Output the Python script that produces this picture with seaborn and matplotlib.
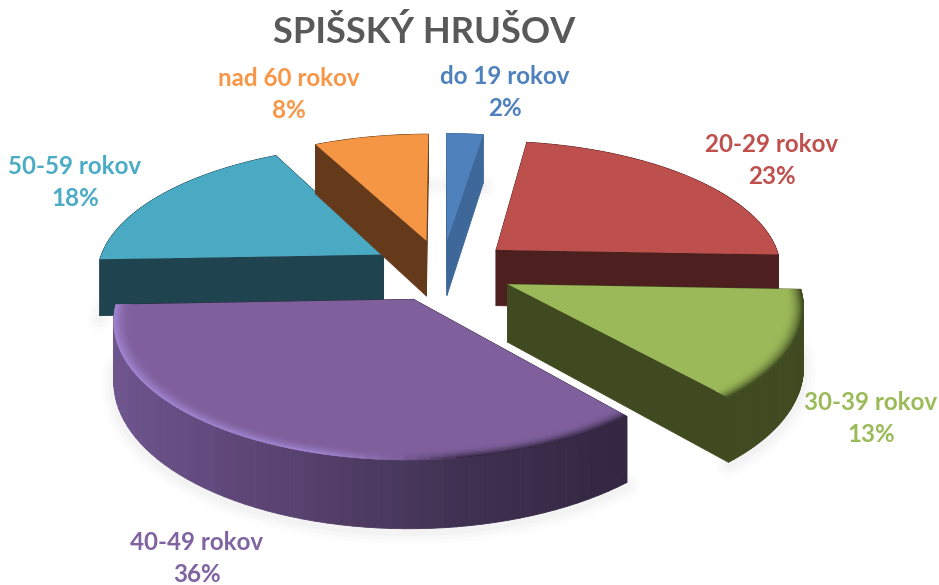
import numpy as np
import matplotlib
matplotlib.use("Agg")
from matplotlib import pyplot as plt
from matplotlib.collections import PolyCollection
from matplotlib.colors import to_rgb
from matplotlib.transforms import Transform
import seaborn as sns

categories = ["do 19 rokov", "20-29 rokov", "30-39 rokov", "40-49 rokov", "50-59 rokov", "nad 60 rokov"]
# the labels show them rounded
shares = [2.4, 23.2, 13.1, 35.7, 18.1, 7.5]
face_colors = ["#4f81bd", "#bd504c", "#9bb959", "#7f609d", "#4aa9c3", "#f59645"]
wall_colors = ["#3d6899", "#4d1f1f", "#3f4a20", "#31253f", "#1f444f", "#653a1b"]
text_colors = ["#4f81bd", "#c0504d", "#9bbb59", "#8064a2", "#4bacc6", "#f79646"]
title = "SPIŠSKÝ HRUŠOV"

# label centres in pixels
label_pos = [(505, 77), (772, 144), (871, 402), (197, 543), (75, 167), (289, 79)]
draw_order = [4, 5, 0, 1, 2, 3]

CX, CY, R, TILT, PERSP, DEPTH = 442, 270, 287, 0.45, 0.14, 57


class DiscProjection(Transform):
    # flat pie coordinates -> picture pixels, with a bit of perspective
    input_dims = 2
    output_dims = 2
    is_separable = False
    has_inverse = False

    def __init__(self, z=0):
        super().__init__()
        self.z = z

    def transform_non_affine(self, values):
        x, y = np.asarray(values).T
        s = 1 / (1 + PERSP * y)
        return np.column_stack([CX + R * x * s, CY - R * TILT * y * s + self.z * s])


def mix(a, b, t):
    return tuple(np.array(to_rgb(a)) * (1 - t) + np.array(to_rgb(b)) * t)


def arc_points(wedge, r_frac=1.0, n=60):
    th = np.radians(np.linspace(wedge.theta1, wedge.theta2, n))
    cx, cy = wedge.center
    return th, np.column_stack([cx + wedge.r * r_frac * np.cos(th), cy + wedge.r * r_frac * np.sin(th)])


sns.set_theme(style="white")
plt.rcParams['font.family'] = ['Lato', 'DejaVu Sans']

fig = plt.figure(figsize=(9.39, 5.85), dpi=100)
ax = fig.add_axes([0, 0, 1, 1])

wedges, _ = ax.pie(shares, explode=[0.24, 0.25, 0.25, 0.24, 0.24, 0.24], startangle=90, counterclock=False,
                   colors=face_colors, wedgeprops=dict(linewidth=0))
ax.set_aspect('auto')
ax.set_xlim(0, 939)
ax.set_ylim(585, 0)

top = DiscProjection(0)
bottom = DiscProjection(DEPTH)
purple_wall = sns.blend_palette(["#6f5690", "#5a4472", "#3f3050", "#31253f"], 40)

for order, i in enumerate(draw_order):
    w = wedges[i]
    th, pts = arc_points(w)
    up, down = top.transform(pts), bottom.transform(pts)
    base = order * 2 + 2

    # soft shadow under the slice
    for lw, alpha in [(18, 0.02), (12, 0.03), (6, 0.04)]:
        ax.plot(down[:, 0], down[:, 1] + 3, color="#808080", lw=lw, alpha=alpha,
                solid_capstyle='round', zorder=1)

    # side walls: the two cuts and then the outer arc
    tip = np.array([w.center])
    quads = []
    colors = []
    for p in (pts[0], pts[-1]):
        edge = np.vstack([tip, p])
        quads.append(np.vstack([top.transform(edge), bottom.transform(edge)[::-1]]))
        colors.append(wall_colors[i])
    for k in range(len(th) - 1):
        quads.append(np.vstack([up[k:k + 2], down[k:k + 2][::-1]]))
        if categories[i] == "40-49 rokov":
            pos = (np.cos(th[k]) + 1) / 1.7
            colors.append(purple_wall[min(int(pos * 39), 39)])
        else:
            colors.append(wall_colors[i])
    ax.add_collection(PolyCollection(quads, facecolors=colors, edgecolors=colors,
                                     linewidths=0.6, zorder=base), autolim=False)

    w.set_transform(top + ax.transData)
    w.set_zorder(base + 0.5)
    w.set_clip_on(False)

    # rounded rim on the front slices
    if categories[i] in ("30-39 rokov", "40-49 rokov"):
        bands = 8
        width = 0.055
        for b in range(bands):
            _, p_in = arc_points(w, 1 - width * (b + 1) / bands)
            _, p_out = arc_points(w, 1 - width * b / bands)
            p_in, p_out = top.transform(p_in), top.transform(p_out)
            t = ((bands - b) / bands) ** 2
            quads = []
            colors = []
            for k in range(len(th) - 1):
                quads.append(np.vstack([p_out[k:k + 2], p_in[k:k + 2][::-1]]))
                c = np.cos(th[k])
                if categories[i] == "40-49 rokov" and c < -0.05:
                    colors.append(mix(face_colors[i], "#a184d0", t * min(1, (-0.05 - c) * 5)))
                else:
                    colors.append(mix(face_colors[i], wall_colors[i], t * min(1, (c + 0.05) * 5)))
            ax.add_collection(PolyCollection(quads, facecolors=colors, edgecolors=colors,
                                             linewidths=0.4, zorder=base + 0.6), autolim=False)

for name, share, color, (x, y) in zip(categories, shares, text_colors, label_pos):
    ax.text(x, y, name, color=color, fontsize=17.4, fontweight='bold', ha='center', va='center')
    ax.text(x, y + 32, f"{share:.0f}%", color=color, fontsize=17.4, fontweight='bold', ha='center', va='center')

ax.text(424, 32, title, color="#595959", fontsize=26.1, fontweight='bold', ha='center', va='center')

fig.savefig("out.png", dpi=100)
